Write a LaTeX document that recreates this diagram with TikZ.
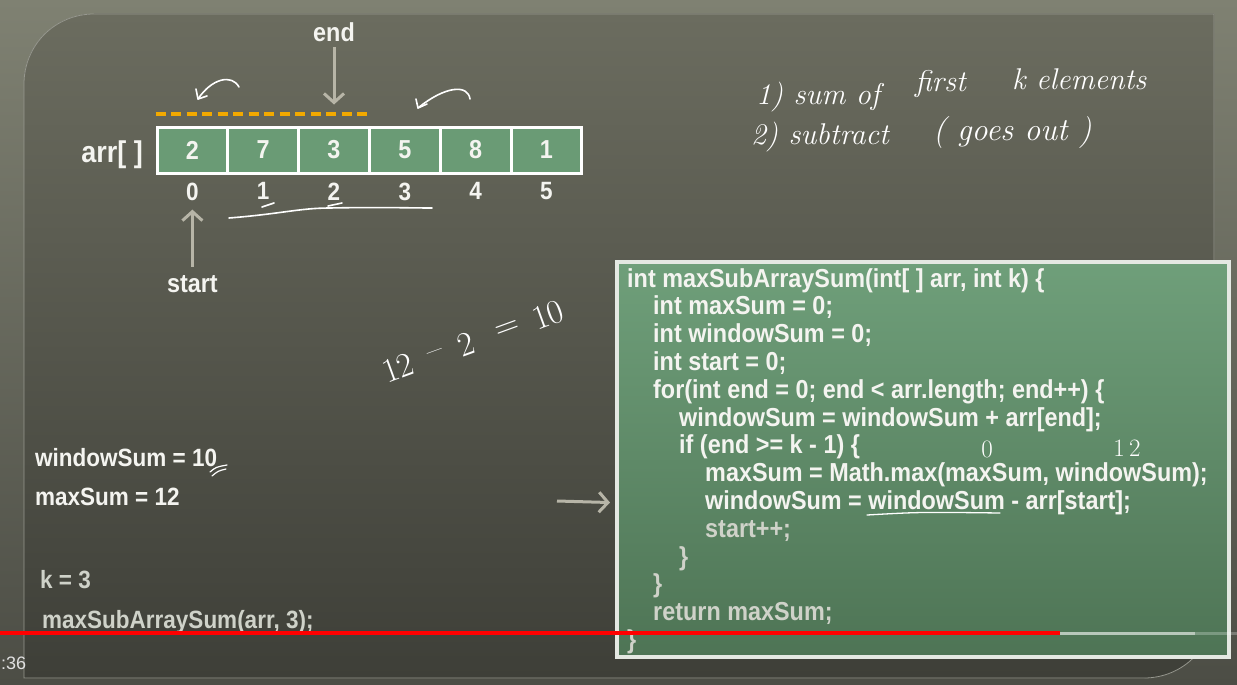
\documentclass[tikz,border=0pt]{standalone}
\usepackage{fontspec}
\newfontfamily\slidefont{Liberation Sans}[FakeStretch=0.9]
\newfontfamily\uifont{Liberation Sans}
\usepackage{tikz}
\usetikzlibrary{arrows.meta}
\usetikzlibrary{positioning}

\definecolor{frametop}{HTML}{7F8172}
\definecolor{framebot}{HTML}{4C4D45}
\definecolor{boardtop}{HTML}{6B6C5F}
\definecolor{boardbot}{HTML}{3E3F38}
\definecolor{cellgreen}{HTML}{6A9B75}
\definecolor{codetop}{HTML}{6F9F7A}
\definecolor{codebot}{HTML}{4E7455}
\definecolor{boxedge}{HTML}{E4E8E2}
\definecolor{chalk}{HTML}{F4F4F0}
\definecolor{fadechalk}{HTML}{CFD2C9}
\definecolor{pointer}{HTML}{B7B5A7}
\definecolor{window}{HTML}{F2A900}
\definecolor{ytred}{HTML}{FF0000}

\begin{document}
\begin{tikzpicture}[x=1pt,y=-1pt,
  every node/.style={inner sep=0pt},
  lbl/.style={text=chalk,font=\slidefont\bfseries\fontsize{26}{26}\selectfont},
  side/.style={lbl,anchor=base west,font=\slidefont\bfseries\fontsize{25}{25}\selectfont},
  code/.style={lbl,anchor=base west},
  faded/.style={text=fadechalk},
  cell/.style={lbl,draw=white,line width=3pt,fill=cellgreen,
    minimum width=70.8pt,minimum height=46pt},
  idx/.style={lbl,font=\slidefont\bfseries\fontsize{25}{25}\selectfont},
  hand/.style={text=white,anchor=base west,font=\fontsize{30}{30}\selectfont\itshape},
  handnum/.style={text=white,anchor=center,font=\fontsize{25}{25}\selectfont},
  calcnum/.style={handnum,rotate=20,font=\fontsize{34}{34}\selectfont},
  stroke/.style={draw=white,line width=1.6pt,line cap=round,line join=round},
  ptr/.style={draw=pointer,line width=3pt,-{Straight Barb[length=9pt,width=20pt]}},
  codebox/.style={draw=boxedge,line width=4pt,top color=codetop,bottom color=codebot,
    minimum width=612pt,minimum height=395pt}]

% frame and board
\fill[top color=frametop,bottom color=framebot] (0,0) rectangle (1237,685);
\useasboundingbox (0,0) rectangle (1237,685);
\fill[top color=boardtop,bottom color=boardbot,draw=boardtop!70!white,line width=0.8pt]
  (24,678) -- (24,84) .. controls (24,45) and (55,14) .. (94,14)
  -- (1214,14) -- (1214,608) .. controls (1214,647) and (1183,678) .. (1144,678) -- cycle;

% array
\foreach \v [count=\i from 0] in {2,7,3,5,8,1}{
  \node[cell] (c\i) at ({192.4+70.8*\i},150) {\v};
  \node[idx,below=8pt of c\i] (i\i) {\i};
}
\node[lbl,anchor=base east,font=\slidefont\bfseries\fontsize{30}{30}\selectfont] (arrlbl) at (143,162) {arr[ ]};
\draw[window,line width=4pt,dash pattern=on 10pt off 5.5pt]
  ([yshift=12pt]c0.north west) -- ([yshift=12pt]c2.north east);

\node[lbl,anchor=base] (endlbl) at (334,42) {end};
\node[lbl,anchor=base] (startlbl) at (192.4,292) {start};
\draw[ptr,shorten <=5pt,shorten >=21pt] (endlbl.south) -- (c2.north);
\draw[ptr,shorten <=8pt,shorten >=9pt] (startlbl.north) -- (i0.south);

% chalk marks
\draw[stroke] (239,87) .. controls (232,74) and (212,78) .. (198,99);
\draw[stroke] (196,89) -- (198,99) -- (207,96);
\draw[stroke] (470,99) .. controls (468,84) and (445,86) .. (418,108);
\draw[stroke] (416,99) -- (418,108) -- (427,104);
\draw[stroke] (262,207) -- (274,203);
\draw[stroke] (328,206) -- (342,203);
\draw[stroke] (229,218) .. controls (280,214) and (300,208) .. (330,208)
  .. controls (380,207) and (410,208) .. (432,208);

% notes
\node[hand] (n1a) at (756,104) {1) sum of};
\node[hand] (n1b) at (915,92) {first};
\node[hand] (n1c) at (1012,89) {k elements};
\node[hand] (n2a) at (751,144) {2) subtract};
\node[hand,font=\fontsize{32}{32}\selectfont\itshape] (n2b) at (933,140) {( goes out )};
\node[calcnum] (calc1) at (398,368) {12};
\node[calcnum] (calc2) at (436,355) {--};
\node[calcnum] (calc3) at (466,344) {2};
\node[calcnum] (calc4) at (508,330) {=};
\node[calcnum] (calc5) at (548,315) {10};

% values
\node[side] (ws) at (35,466) {windowSum = 10};
\node[side] (ms) at (35,505) {maxSum = 12};
\node[side,faded] (kval) at (40,588) {k = 3};
\node[side,faded] (call) at (42,628) {maxSubArraySum(arr, 3);};
\draw[stroke,line width=1.2pt] (210,472) .. controls (216,467) .. (227,465);
\draw[stroke,line width=1.2pt] (212,476) .. controls (218,471) .. (226,469);

% code
\node[codebox] (codebox) at (923,459.5) {};
\node[code] (l1) at (627,287) {int maxSubArraySum(int[ ] arr, int k) \{};
\node[code] (l2) at (653,314.8) {int maxSum = 0;};
\node[code] (l3) at (653,342.6) {int windowSum = 0;};
\node[code] (l4) at (653,370.4) {int start = 0;};
\node[code] (l5) at (653,398.2) {for(int end = 0; end < arr.length; end++) \{};
\node[code] (l6) at (679,426) {windowSum = windowSum + arr[end];};
\node[code] (l7) at (679,453.8) {if (end >= k - 1) \{};
\node[code] (l8) at (705,481.6) {maxSum = Math.max(maxSum, windowSum);};
\node[code] (l9) at (705,509.4) {windowSum = windowSum - arr[start];};
\node[code,faded] (l10) at (705,537.2) {start++;};
\node[code,faded] (l11) at (679,565) {\}};
\node[code,faded] (l12) at (653,592.8) {\}};
\node[code,faded] (l13) at (653,620.6) {return maxSum;};
\node[code,faded] (l14) at (627,648.4) {\}};

\coordinate (ptrtail) at (557,501);
\draw[ptr,shorten >=5pt] (ptrtail) -- (codebox.west |- l9);
\node[handnum] (zero) at (987,449) {0};
\node[handnum] (twelve) at (1127,448) {1\,2};
\draw[stroke,line width=1.3pt] (867,515) .. controls (920,512) .. (1000,513);

% player bar
\fill[ytred] (0,631) rectangle (1060,635);
\fill[white,opacity=0.6] (1060,631.5) rectangle (1195,634.5);
\fill[white,opacity=0.25] (1195,631.5) rectangle (1237,634.5);
\node[anchor=base west,text=white!88!black,font=\uifont\fontsize{18}{18}\selectfont] (clock) at (1,669) {:36};
\end{tikzpicture}
\end{document}
